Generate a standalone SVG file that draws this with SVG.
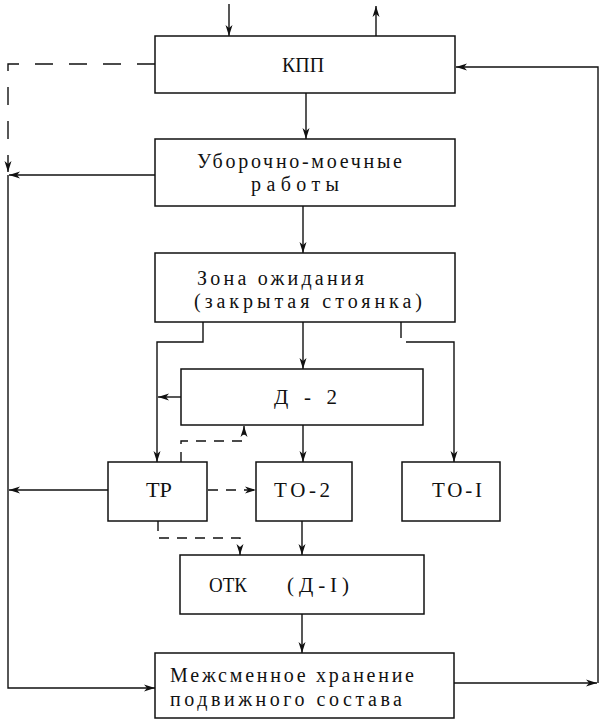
<svg xmlns="http://www.w3.org/2000/svg" width="601" height="723" viewBox="0 0 601 723">
<style>
.box{fill:#fff;stroke:#111;stroke-width:1.5}
.t{font-family:"Liberation Serif","DejaVu Serif",serif;font-size:21px;fill:#111}
.s{font-size:20px}
.ln{fill:none;stroke:#111;stroke-width:1.4}
.ar{marker-end:url(#arr)}
.ds{stroke-dasharray:18 16}
.ds2{stroke-dasharray:10 8}
</style>
<defs>
<marker id="arr" markerUnits="userSpaceOnUse" markerWidth="11" markerHeight="8" refX="11" refY="4" orient="auto">
<path d="M0,0.5 L11,4 L0,7.5 L3,4 z" fill="#111"/>
</marker>
</defs>
<rect width="601" height="723" fill="#fff"/>
<g id="connectors">
<path class="ln ar" d="M229,4 V36"/>
<path class="ln ar" d="M376,36 V6"/>
<path class="ln ds ar" d="M155,64 H8 V172"/>
<path class="ln ar" d="M598,683 V67 H456"/>
<path class="ln ar" d="M306,93 V139"/>
<path class="ln ar" d="M155,175 H9"/>
<path class="ln ar" d="M8,175 V688 H155"/>
<path class="ln ar" d="M303,206 V253"/>
<path class="ln ar" d="M203,322 V342 H157 V462"/>
<path class="ln ar" d="M303,322 V369"/>
<path class="ln ar" d="M401,322 V338 M406,342 H454 V462"/>
<path class="ln ar" d="M181,397 H158"/>
<path class="ln ar" d="M303,425 V462"/>
<path class="ln ds2 ar" d="M181,462 V441 H244 V426"/>
<path class="ln ds2 ar" d="M208,490 H256"/>
<path class="ln ar" d="M108,490 H9"/>
<path class="ln ds2 ar" d="M158,521 V538 H240 V555"/>
<path class="ln ar" d="M302,521 V555"/>
<path class="ln ar" d="M302,614 V653"/>
<path class="ln ar" d="M454,683 H597"/>
</g>
<g id="kpp"><rect class="box" x="155" y="36" width="300" height="57"/><text class="t" x="282" y="72" textLength="42" lengthAdjust="spacingAndGlyphs">КПП</text></g>
<g id="ubor"><rect class="box" x="155" y="139" width="300" height="67"/><text class="t s" x="197" y="168" textLength="205" lengthAdjust="spacing">Уборочно-моечные</text><text class="t s" x="251" y="191" textLength="88" lengthAdjust="spacing">работы</text></g>
<g id="zona"><rect class="box" x="155" y="253" width="300" height="69"/><text class="t s" x="197" y="285" textLength="167" lengthAdjust="spacing">Зона ожидания</text><text class="t s" x="194" y="308" textLength="228" lengthAdjust="spacing">(закрытая стоянка)</text></g>
<g id="d2"><rect class="box" x="181" y="369" width="242" height="56"/><text class="t" x="274" y="404" textLength="63" lengthAdjust="spacing">Д - 2</text></g>
<g id="tr"><rect class="box" x="108" y="462" width="99" height="59"/><text class="t" x="146" y="497" textLength="26" lengthAdjust="spacingAndGlyphs">ТР</text></g>
<g id="to2"><rect class="box" x="256" y="462" width="96" height="59"/><text class="t" x="274" y="497" textLength="56" lengthAdjust="spacing">ТО-2</text></g>
<g id="to1"><rect class="box" x="402" y="462" width="98" height="59"/><text class="t" x="432" y="497" textLength="50" lengthAdjust="spacing">ТО-I</text></g>
<g id="otk"><rect class="box" x="180" y="555" width="244" height="59"/><text class="t" x="209" y="592" textLength="38" lengthAdjust="spacingAndGlyphs">ОТК</text><text class="t" x="287" y="592" textLength="62" lengthAdjust="spacing">(Д-I)</text></g>
<g id="mezh"><rect class="box" x="155" y="653" width="299" height="65"/><text class="t s" x="170" y="682" textLength="244" lengthAdjust="spacing">Межсменное хранение</text><text class="t s" x="170" y="706" textLength="232" lengthAdjust="spacing">подвижного состава</text></g>
</svg>
